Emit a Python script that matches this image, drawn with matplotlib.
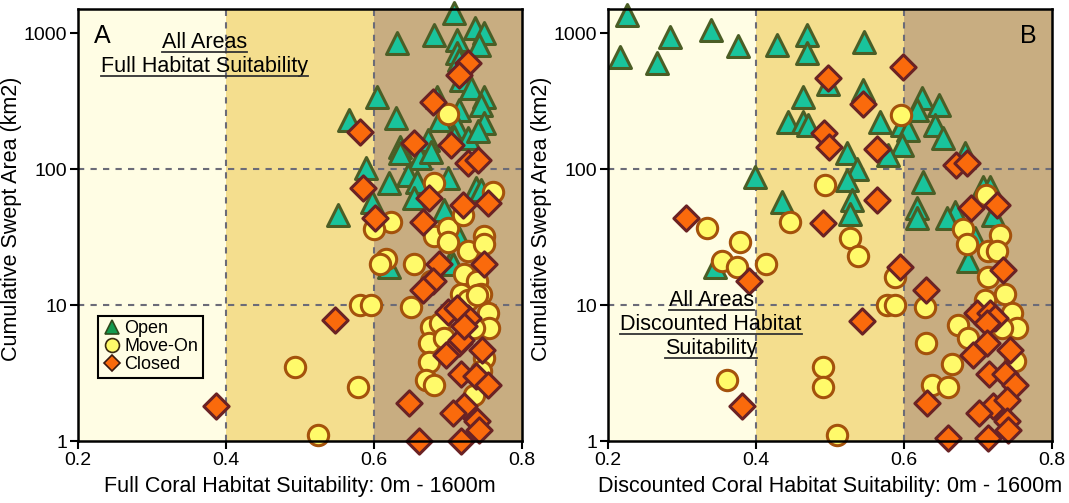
import matplotlib
matplotlib.use("Agg")
import matplotlib.pyplot as plt
from matplotlib.lines import Line2D
from matplotlib.ticker import FixedLocator, NullLocator, FixedFormatter

plt.rcParams["font.family"] = ["Liberation Sans", "DejaVu Sans"]

# ---- Panel A: full habitat suitability ----
a_open_x = [0.708, 0.681, 0.632, 0.737, 0.749, 0.742, 0.712, 0.713, 0.715, 0.718, 0.731,
            0.749, 0.745, 0.605, 0.566, 0.630, 0.715, 0.690, 0.749, 0.686, 0.713, 0.708,
            0.673, 0.636, 0.636, 0.663, 0.677, 0.590, 0.620, 0.646, 0.659, 0.700, 0.654,
            0.598, 0.552, 0.695, 0.738, 0.745, 0.714, 0.704, 0.620, 0.707, 0.728, 0.741]
a_open_y = [1400, 966, 845, 1090, 1000, 815, 890, 713, 630, 451, 394,
            338, 295, 338, 229, 237, 272, 229, 218, 338, 204, 172,
            163, 145, 131, 120, 133, 102, 79, 90, 80, 86, 61,
            57, 46, 50, 73, 70, 32, 21, 19, 20, 170, 190]

a_move_x = [0.700, 0.681, 0.761, 0.623, 0.600, 0.681, 0.700, 0.700, 0.720, 0.727, 0.749,
            0.749, 0.616, 0.609, 0.654, 0.722, 0.740, 0.677, 0.718, 0.745, 0.582, 0.596,
            0.650, 0.677, 0.690, 0.674, 0.695, 0.674, 0.670, 0.681, 0.727, 0.740, 0.754,
            0.756, 0.735, 0.749, 0.578, 0.494, 0.524, 0.745, 0.735]
a_move_y = [254, 79, 68, 41, 36, 32, 37, 29, 46, 25, 32,
            28, 22, 20, 20, 17, 15, 15, 12, 12, 10, 10,
            9.7, 6.9, 7.4, 5.3, 5.7, 3.8, 2.8, 2.6, 10.9, 11.8, 8.7,
            6.8, 6.8, 4.1, 2.5, 3.5, 1.1, 3.3, 2.2]

a_closed_x = [0.728, 0.715, 0.680, 0.582, 0.654, 0.704, 0.728, 0.741, 0.585, 0.674, 0.720,
              0.754, 0.602, 0.667, 0.688, 0.749, 0.680, 0.666, 0.548, 0.701, 0.727, 0.715,
              0.697, 0.747, 0.718, 0.738, 0.754, 0.647, 0.722, 0.707, 0.740, 0.742, 0.661,
              0.718, 0.386, 0.718, 0.722, 0.712]
a_closed_y = [602, 491, 311, 187, 155, 150, 111, 116, 73, 61, 54,
              56, 44, 41, 20, 20, 15, 13, 7.8, 8.9, 8.0, 5.3,
              4.3, 4.7, 3.1, 3.0, 2.6, 1.9, 1.8, 1.6, 1.4, 1.2, 1.0,
              1.0, 1.8, 5.5, 7.0, 9.5]

# ---- Panel B: discounted habitat suitability ----
b_open_x = [0.226, 0.216, 0.284, 0.266, 0.339, 0.376, 0.428, 0.469, 0.469, 0.464, 0.443,
            0.464, 0.470, 0.399, 0.435, 0.546, 0.545, 0.568, 0.597, 0.605, 0.597, 0.578,
            0.523, 0.536, 0.523, 0.530, 0.527, 0.624, 0.618, 0.647, 0.642, 0.653, 0.682,
            0.626, 0.707, 0.716, 0.618, 0.669, 0.658, 0.618, 0.720, 0.696, 0.686, 0.345,
            0.497]
b_open_y = [1356, 666, 935, 600, 1051, 802, 817, 966, 713, 338, 222,
            222, 211, 87, 57, 859, 381, 222, 211, 194, 150, 127,
            131, 100, 83, 59, 47, 333, 272, 295, 211, 169, 131,
            80, 74, 74, 52, 48, 44, 44, 46, 31, 21, 19,
            420]

b_move_x = [0.596, 0.493, 0.711, 0.334, 0.446, 0.378, 0.354, 0.374, 0.414, 0.360, 0.490,
            0.490, 0.527, 0.538, 0.588, 0.577, 0.588, 0.628, 0.630, 0.665, 0.638, 0.660,
            0.509, 0.680, 0.685, 0.714, 0.730, 0.726, 0.714, 0.736, 0.709, 0.746, 0.753,
            0.732, 0.673, 0.686, 0.750]
b_move_y = [249, 76, 64, 37, 41, 29, 21, 19, 20, 2.8, 3.5,
            2.5, 31, 23, 16, 10, 10, 9.7, 5.3, 3.7, 2.6, 2.5,
            1.1, 36, 28, 25, 33, 25, 16, 12, 10.9, 8.7, 6.8,
            6.8, 7.1, 5.7, 3.9]

b_closed_x = [0.599, 0.497, 0.545, 0.492, 0.498, 0.563, 0.670, 0.685, 0.563, 0.491, 0.305,
              0.691, 0.726, 0.391, 0.381, 0.595, 0.630, 0.543, 0.699, 0.716, 0.723, 0.712,
              0.734, 0.712, 0.693, 0.743, 0.715, 0.737, 0.750, 0.631, 0.720, 0.702, 0.739,
              0.739, 0.741, 0.660, 0.714]
b_closed_y = [562, 467, 300, 184, 145, 140, 107, 110, 59, 40, 44,
              52, 54, 15, 1.8, 19, 13, 7.6, 8.7, 8.7, 8.0, 7.4,
              18, 5.3, 4.3, 4.7, 3.1, 3.1, 2.6, 1.9, 1.8, 1.6, 2.0,
              1.4, 1.2, 1.05, 1.05]

bands = [(0.2, 0.4, "#FFFDE4"), (0.4, 0.6, "#F4DE8E"), (0.6, 0.8, "#C8AD81")]
y_ticks = [1, 10, 100, 1000]
x_ticks = [0.2, 0.4, 0.6, 0.8]

FS = 15.5
TICK_FS = 14
OPEN = dict(marker="^", s=250, c="#19C49C", edgecolors="#4B5E26", linewidths=2.2)
MOVE = dict(marker="o", s=215, c="#FFFA6A", edgecolors="#A4520C", linewidths=2.2)
CLOSED = dict(marker="D", s=165, c="#FA6A0C", edgecolors="#6A2224", linewidths=2.2)


def panel(ax, ox, oy, mx, my, cx, cy, xlabel):
    for lo, hi, col in bands:
        ax.axvspan(lo, hi, color=col, lw=0, zorder=0)
    for xv in (0.4, 0.6):
        ax.axvline(xv, color="#6B6B78", lw=1.5, ls=(0, (3, 3)), zorder=1)
    for yv in (10, 100):
        ax.axhline(yv, color="#6B6B78", lw=1.5, ls=(0, (3, 3)), zorder=1)
    ax.scatter(ox, oy, zorder=3, clip_on=False, **OPEN)
    ax.scatter(mx, my, zorder=4, clip_on=False, **MOVE)
    ax.scatter(cx, cy, zorder=5, clip_on=False, **CLOSED)
    ax.set_yscale("log")
    ax.set_xlim(0.2, 0.8)
    ax.set_ylim(1, 1500)
    ax.yaxis.set_major_locator(FixedLocator(y_ticks))
    ax.yaxis.set_major_formatter(FixedFormatter([str(v) for v in y_ticks]))
    ax.yaxis.set_minor_locator(NullLocator())
    ax.set_xticks(x_ticks)
    ax.set_xticklabels([f"{v:.1f}" for v in x_ticks])
    ax.tick_params(direction="out", length=6, width=1.5, labelsize=TICK_FS, pad=2)
    for sp in ax.spines.values():
        sp.set_linewidth(1.8)
        sp.set_zorder(6)
    ax.set_xlabel(xlabel, fontsize=FS, labelpad=5)
    ax.set_ylabel("Cumulative Swept Area (km2)", fontsize=FS)
    ax.yaxis.set_label_coords(-0.126, 0.515)


fig = plt.figure(figsize=(10.69, 5.03), dpi=100)
ax1 = fig.add_axes([0.073, 0.123, 0.415, 0.859])
ax2 = fig.add_axes([0.569, 0.123, 0.415, 0.859])

panel(ax1, a_open_x, a_open_y, a_move_x, a_move_y, a_closed_x, a_closed_y,
      "Full Coral Habitat Suitability: 0m - 1600m")
panel(ax2, b_open_x, b_open_y, b_move_x, b_move_y, b_closed_x, b_closed_y,
      "Discounted Coral Habitat Suitability: 0m - 1600m")

ax1.text(0.035, 0.965, "A", transform=ax1.transAxes, fontsize=18, va="top", ha="left", zorder=7)
ax2.text(0.965, 0.965, "B", transform=ax2.transAxes, fontsize=18, va="top", ha="right", zorder=7)

# underlined titles, one text per line so each line gets its own rule
titles = []
for i, line in enumerate(["All Areas", "Full Habitat Suitability"]):
    titles.append(ax1.text(0.286, 0.922 - i * 0.054, line, transform=ax1.transAxes,
                           fontsize=FS, ha="center", va="center", zorder=7))
for i, line in enumerate(["All Areas", "Discounted Habitat", "Suitability"]):
    titles.append(ax2.text(0.232, 0.325 - i * 0.055, line, transform=ax2.transAxes,
                           fontsize=FS, ha="center", va="center", zorder=7))

handles = [
    Line2D([], [], ls="", marker="^", ms=10, mfc="#139A4E", mec="#2F4A1C", mew=1.2, label="Open"),
    Line2D([], [], ls="", marker="o", ms=10, mfc="#FFFA6A", mec="#3A2A10", mew=1.2, label="Move-On"),
    Line2D([], [], ls="", marker="D", ms=8.5, mfc="#FA6A0C", mec="#3A1A10", mew=1.2, label="Closed"),
]
leg = ax1.legend(handles=handles, loc="upper left", bbox_to_anchor=(0.045, 0.29),
                 fontsize=13, frameon=True, fancybox=False, framealpha=1,
                 handletextpad=0.2, handlelength=1.0, borderpad=0.25, labelspacing=0.05,
                 borderaxespad=0)
leg.get_frame().set_edgecolor("black")
leg.get_frame().set_facecolor("#FFFDE4")
leg.get_frame().set_linewidth(1.5)
leg.set_zorder(8)

fig.canvas.draw()
renderer = fig.canvas.get_renderer()
inv = fig.transFigure.inverted()
for t in titles:
    bb = t.get_window_extent(renderer)
    (x0, y0), (x1, _) = inv.transform([(bb.x0, bb.y0 + 1), (bb.x1, bb.y0 + 1)])
    fig.add_artist(Line2D([x0, x1], [y0, y0], color="#333333", lw=1.3, zorder=9))

fig.savefig("out.png", dpi=100)
